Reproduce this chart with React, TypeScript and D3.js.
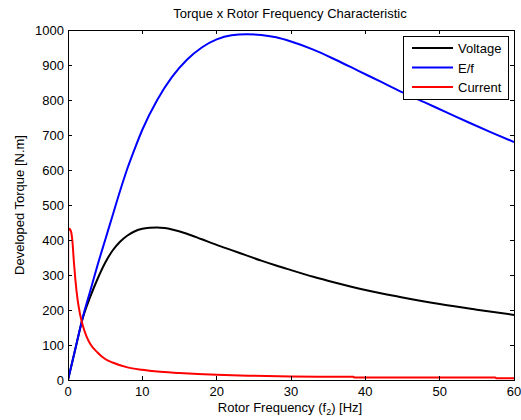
import React from "react";
import * as d3 from "d3";

const freqV = [0,1,2,3,4,5,6,7,8,9,10,11,12,13,14,16,18,20,22,24,26,28,30,33,36,40,45,50,55,60];
const voltage = [0,90,178,238,290,335,370,395,413,425,432,435,436,434,430,418,402,386,371,356,341,327,314,295,278,257,236,217,201,186];

const freqE = [0,1,2,3,4,5,6,7,8,9,10,12,14,16,18,20,22,24,26,28,30,33,36,39,42,45,48,51,54,57,60];
const ef = [0,90,180,255,330,400,470,540,605,662,715,800,866,915,950,973,985,988,986,979,967,944,915,884,853,822,793,764,735,707,680];

const freqI = [0,0.02,0.2,0.4,0.6,0.8,1,1.3,1.6,2,2.5,3,4,5,6,8,10,12,15,20,25,30,38.4,38.5,45,50,57.5,57.6,60];
const current = [0,425,432,425,395,335,285,228,190,155,124,103,78,60,50,36,29,24,20,15,12,10,9,7,7,7,7,5,5];

const xTicks = [0,10,20,30,40,50,60];
const yTicks = [0,100,200,300,400,500,600,700,800,900,1000];

const seriesNames = ["Voltage","E/f","Current"];
const seriesColors = ["#000000","#0000ff","#ff0000"];

export default function App() {
  const W = 521, H = 420;
  const left = 68, right = 514, top = 30, bottom = 380;
  const x = d3.scaleLinear().domain([0,60]).range([left,right]);
  const y = d3.scaleLinear().domain([0,1000]).range([bottom,top]);
  const line = d3.line<[number,number]>().x(d => x(d[0])).y(d => y(d[1])).curve(d3.curveMonotoneX);
  const mk = (fs: number[], vs: number[]) => line(fs.map((f,i) => [f, vs[i]] as [number,number])) || "";
  const paths = [mk(freqV, voltage), mk(freqE, ef), mk(freqI, current)];
  const font = "Liberation Sans, Arial, sans-serif";
  const fs = 13;
  const legX = 403, legY = 36, legW = 105, legH = 63;
  return (
    <svg width={W} height={H} style={{position:"absolute", left:0, top:0, background:"#fff"}} fontFamily={font}>
      <rect x={0} y={0} width={W} height={H} fill="#fff" />
      <defs>
        <clipPath id="plotclip"><rect x={left} y={top} width={right-left} height={bottom-top} /></clipPath>
      </defs>
      <rect x={left} y={top} width={right-left} height={bottom-top} fill="#fff" />
      <g clipPath="url(#plotclip)" fill="none" strokeWidth={2} strokeLinejoin="round">
        {paths.map((p,i) => <path key={i} d={p} stroke={seriesColors[i]} />)}
      </g>
      <rect x={left} y={top} width={right-left} height={bottom-top} fill="none" stroke="#000" strokeWidth={1} shapeRendering="crispEdges" />
      {xTicks.map(t => (
        <g key={"x"+t}>
          <line x1={x(t)} x2={x(t)} y1={bottom} y2={bottom-4} stroke="#000" shapeRendering="crispEdges" />
          <line x1={x(t)} x2={x(t)} y1={top} y2={top+4} stroke="#000" shapeRendering="crispEdges" />
          <text x={x(t)} y={bottom+16} fontSize={fs} textAnchor="middle" fill="#000">{t}</text>
        </g>
      ))}
      {yTicks.map(t => (
        <g key={"y"+t}>
          <line x1={left} x2={left+4} y1={y(t)} y2={y(t)} stroke="#000" shapeRendering="crispEdges" />
          <line x1={right} x2={right-4} y1={y(t)} y2={y(t)} stroke="#000" shapeRendering="crispEdges" />
          <text x={left-4} y={y(t)+5} fontSize={fs} textAnchor="end" fill="#000">{t}</text>
        </g>
      ))}
      <text x={290} y={18} fontSize={fs} textAnchor="middle" fill="#000">Torque x Rotor Frequency Characteristic</text>
      <text x={290} y={412} fontSize={fs} textAnchor="middle" fill="#000">
        Rotor Frequency (f<tspan fontSize={9} dy={3}>2</tspan><tspan dy={-3}>) [Hz]</tspan>
      </text>
      <text transform={`translate(24,${(top+bottom)/2}) rotate(-90)`} fontSize={fs} textAnchor="middle" fill="#000">Developed Torque [N.m]</text>
      <rect x={legX} y={legY} width={legW} height={legH} fill="#fff" stroke="#000" strokeWidth={1} shapeRendering="crispEdges" />
      {seriesNames.map((n,i) => {
        const cy = legY + 12 + i*19.5;
        return (
          <g key={n}>
            <line x1={legX+9} x2={legX+50} y1={cy} y2={cy} stroke={seriesColors[i]} strokeWidth={2} />
            <text x={legX+55} y={cy+5} fontSize={fs} fill="#000">{n}</text>
          </g>
        );
      })}
    </svg>
  );
}
